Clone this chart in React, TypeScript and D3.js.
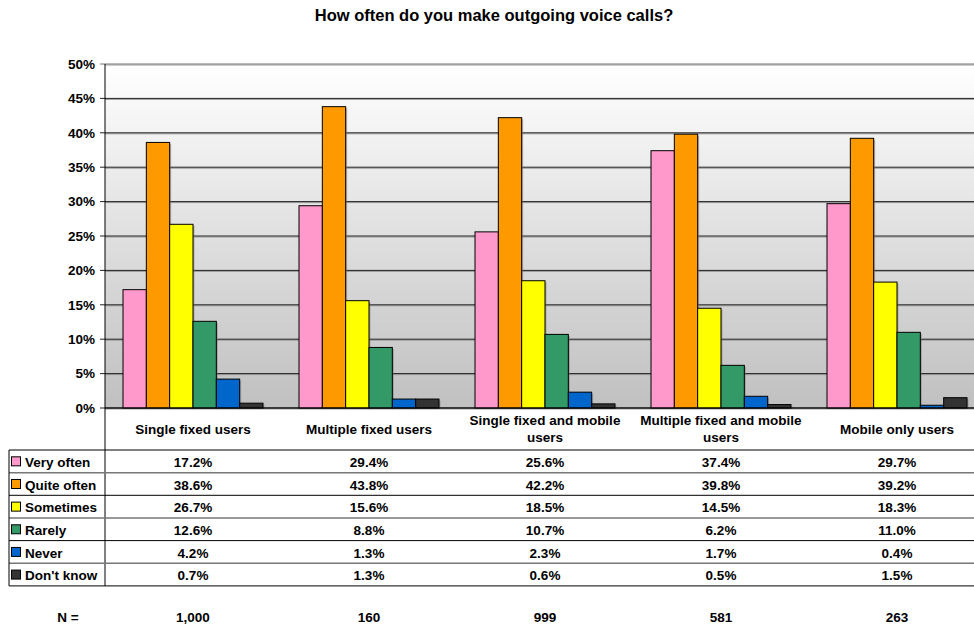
import React from "react";
import * as d3 from "d3";

const title = "How often do you make outgoing voice calls?";
const categories = [
  ["Single fixed users"],
  ["Multiple fixed users"],
  ["Single fixed and mobile", "users"],
  ["Multiple fixed and mobile", "users"],
  ["Mobile only users"],
];
const seriesNames = ["Very often", "Quite often", "Sometimes", "Rarely", "Never", "Don't know"];
const seriesColors = ["#FF99CC", "#FF9900", "#FFFF00", "#339966", "#0066CC", "#333333"];
const veryOften = [17.2, 29.4, 25.6, 37.4, 29.7];
const quiteOften = [38.6, 43.8, 42.2, 39.8, 39.2];
const sometimes = [26.7, 15.6, 18.5, 14.5, 18.3];
const rarely = [12.6, 8.8, 10.7, 6.2, 11.0];
const never = [4.2, 1.3, 2.3, 1.7, 0.4];
const dontKnow = [0.7, 1.3, 0.6, 0.5, 1.5];
const sampleSizes = ["1,000", "160", "999", "581", "263"];
const yTicks = [0, 5, 10, 15, 20, 25, 30, 35, 40, 45, 50];

const series = [veryOften, quiteOften, sometimes, rarely, never, dontKnow];

const W = 974;
const H = 628;
const plotLeft = 105;
const plotRight = 974;
const plotTop = 64;
const plotBottom = 408;
const tableLeft = 9;
const tableTop = 450;
const rowH = 22.65;
const fs = 13.5;

const font = "'Liberation Sans', Arial, sans-serif";

export default function App() {
  const x = d3
    .scaleBand<number>()
    .domain(d3.range(categories.length))
    .range([plotLeft, plotLeft + 176 * categories.length])
    .paddingInner(0)
    .paddingOuter(0);
  const inner = d3
    .scaleBand<number>()
    .domain(d3.range(seriesNames.length))
    .range([18, x.bandwidth() - 18]);
  const y = d3.scaleLinear().domain([0, 50]).range([plotBottom, plotTop]);

  const fmt = (v: number) => v.toFixed(1) + "%";

  return (
    <svg
      width={W}
      height={H}
      style={{ position: "absolute", left: 0, top: 0, background: "#fff" }}
      fontFamily={font}
      fontWeight="bold"
    >
      <defs>
        <linearGradient id="plotBg" x1="0" y1="0" x2="0" y2="1">
          <stop offset="0%" stopColor="#ffffff" />
          <stop offset="100%" stopColor="#c0c0c0" />
        </linearGradient>
        <clipPath id="plotClip">
          <rect x={plotLeft} y={0} width={plotRight - plotLeft} height={H} />
        </clipPath>
      </defs>

      <text x={494} y={21} textAnchor="middle" fontSize={16.5} fill="#000">
        {title}
      </text>

      {/* plot background */}
      <rect
        x={plotLeft}
        y={plotTop}
        width={plotRight - plotLeft}
        height={plotBottom - plotTop}
        fill="url(#plotBg)"
      />

      {/* gridlines and y ticks */}
      {yTicks.map((t) => (
        <g key={t}>
          <line x1={plotLeft} x2={plotRight} y1={y(t) + 1} y2={y(t) + 1} stroke="#999" strokeWidth={1} />
          <line x1={plotLeft - 5} x2={plotRight} y1={y(t)} y2={y(t)} stroke={t === 50 ? "#777" : "#222"} strokeWidth={1} />
          <text x={95} y={y(t)} dy="0.35em" textAnchor="end" fontSize={fs} fill="#000">
            {t}%
          </text>
        </g>
      ))}

      {/* bars */}
      <g clipPath="url(#plotClip)">
        {categories.map((_, ci) =>
          series.map((vals, si) => {
            const bx = (x(ci) as number) + (inner(si) as number);
            const by = y(vals[ci]);
            const bw = inner.bandwidth();
            const bh = plotBottom - by;
            return (
              <g key={`${ci}-${si}`}>
                <rect x={bx + 1.5} y={by + 1.5} width={bw} height={bh - 1.5} fill="#777" opacity={0.5} />
                <rect x={bx} y={by} width={bw} height={bh} fill={seriesColors[si]} stroke="#000" strokeWidth={1} />
              </g>
            );
          })
        )}
      </g>

      {/* axes */}
      <line x1={plotLeft} x2={plotLeft} y1={plotTop} y2={tableTop + rowH * 6} stroke="#000" strokeWidth={1} />
      <line x1={plotLeft} x2={plotRight} y1={plotBottom} y2={plotBottom} stroke="#000" strokeWidth={1} />

      {/* category labels */}
      {categories.map((lines, ci) => {
        const cx = (x(ci) as number) + x.bandwidth() / 2;
        const y0 = lines.length === 1 ? 429 : 420;
        return (
          <text key={ci} x={cx} textAnchor="middle" fontSize={fs} fill="#000">
            {lines.map((l, li) => (
              <tspan key={li} x={cx} y={y0 + li * 17} dy="0.35em">
                {l}
              </tspan>
            ))}
          </text>
        );
      })}

      {/* data table */}
      {d3.range(7).map((r) => (
        <line
          key={r}
          x1={tableLeft}
          x2={plotRight}
          y1={tableTop + r * rowH}
          y2={tableTop + r * rowH}
          stroke={r % 2 === 0 ? "#000" : "#777"}
          strokeWidth={r % 2 === 0 ? 1 : 1.5}
        />
      ))}
      <line x1={tableLeft} x2={tableLeft} y1={tableTop} y2={tableTop + rowH * 6} stroke="#000" strokeWidth={1} />
      {seriesNames.map((name, si) => {
        const cy = tableTop + si * rowH + rowH / 2;
        return (
          <g key={name}>
            <rect x={11.5} y={cy - 4.5} width={9} height={9} fill={seriesColors[si]} stroke="#000" strokeWidth={1} />
            <text x={25} y={cy + 1} dy="0.35em" fontSize={fs} fill="#000">
              {name}
            </text>
            {series[si].map((v, ci) => (
              <text
                key={ci}
                x={(x(ci) as number) + x.bandwidth() / 2}
                y={cy + 1}
                dy="0.35em"
                textAnchor="middle"
                fontSize={fs}
                fill="#000"
              >
                {fmt(v)}
              </text>
            ))}
          </g>
        );
      })}

      {/* sample sizes */}
      <text x={68} y={617} dy="0.35em" textAnchor="middle" fontSize={fs} fill="#000">
        N =
      </text>
      {sampleSizes.map((n, ci) => (
        <text
          key={ci}
          x={(x(ci) as number) + x.bandwidth() / 2}
          y={617}
          dy="0.35em"
          textAnchor="middle"
          fontSize={fs}
          fill="#000"
        >
          {n}
        </text>
      ))}
    </svg>
  );
}
